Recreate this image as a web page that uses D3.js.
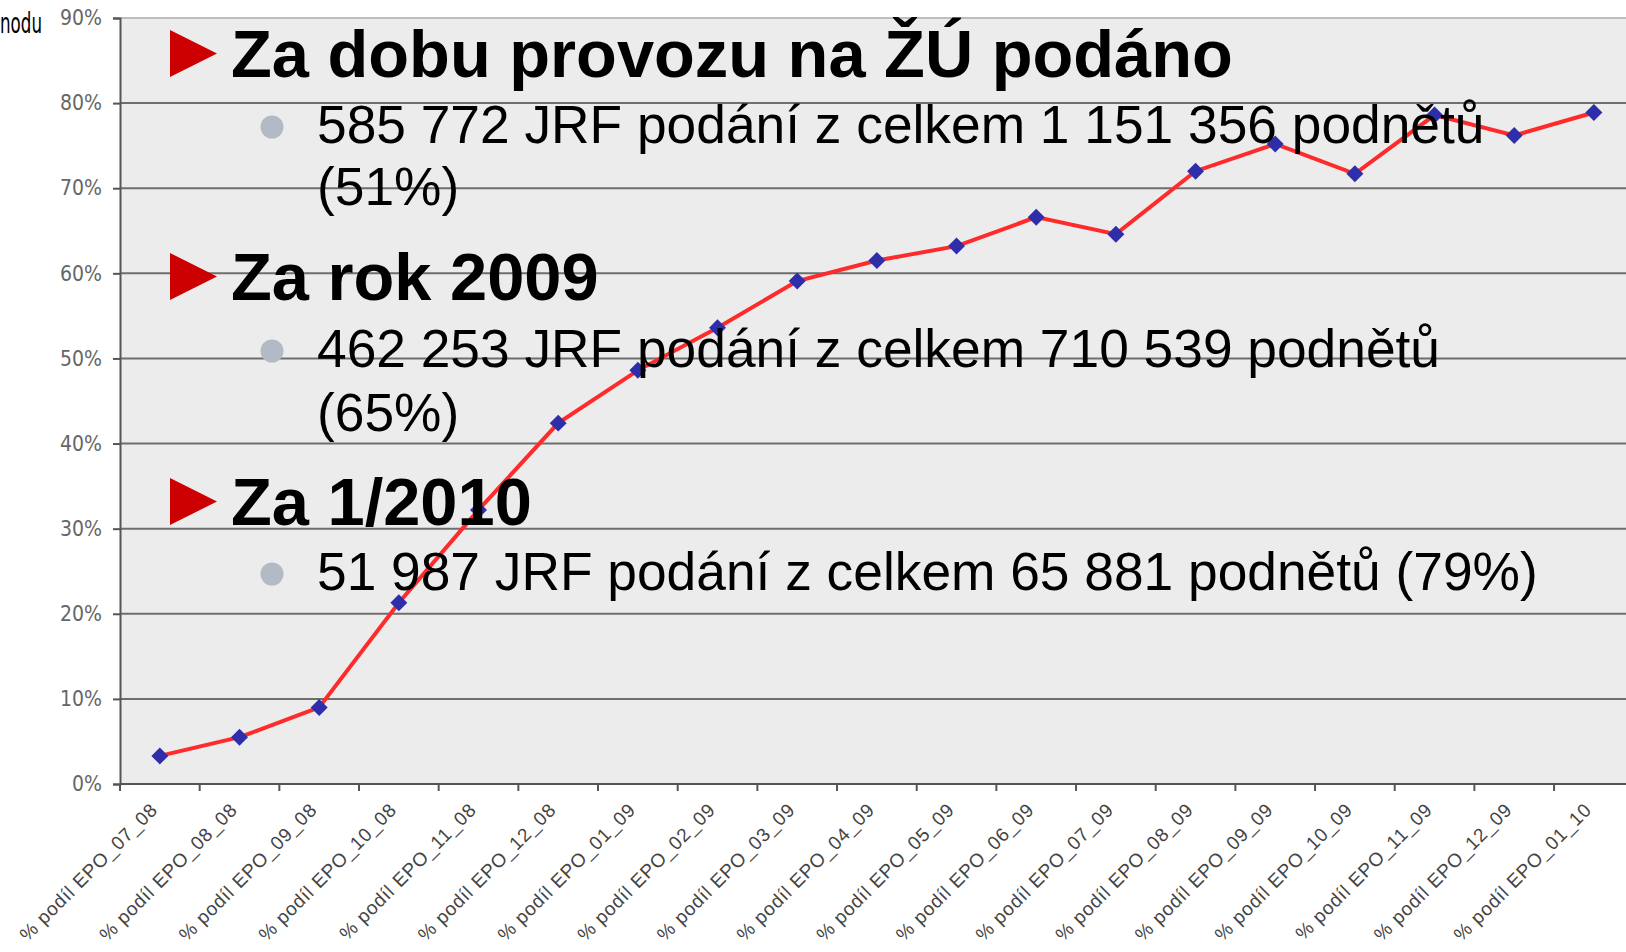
<!DOCTYPE html>
<html>
<head>
<meta charset="utf-8">
<script src="https://cdn.jsdelivr.net/npm/d3@7"></script>
<style>
  body { margin: 0; background: #fff; }
  svg { display: block; }
  .narrow { font-family: "DejaVu Sans Condensed", "Liberation Sans Narrow", sans-serif; }
  .arial { font-family: "Liberation Sans", Arial, sans-serif; }
</style>
</head>
<body>
<div id="chart"></div>
<script>
const categories = ["07_08", "08_08", "09_08", "10_08", "11_08", "12_08", "01_09", "02_09", "03_09",
    "04_09", "05_09", "06_09", "07_09", "08_09", "09_09", "10_09", "11_09", "12_09", "01_10"];
const shares = [0.033, 0.055, 0.090, 0.213, 0.322, 0.424, 0.486, 0.536, 0.591,
    0.615, 0.632, 0.666, 0.646, 0.720, 0.752, 0.717, 0.786, 0.762, 0.789];
const yTicks = [0, 0.1, 0.2, 0.3, 0.4, 0.5, 0.6, 0.7, 0.8, 0.9];

// overlaid slide text
const headings = ["Za dobu provozu na ŽÚ podáno", "Za rok 2009", "Za 1/2010"];
const bodies = [
    ["585 772 JRF podání z celkem 1 151 356 podnětů", "(51%)"],
    ["462 253 JRF podání z celkem 710 539 podnětů", "(65%)"],
    ["51 987 JRF podání z celkem 65 881 podnětů (79%)"]
];

const W = 1626, H = 952;
const plotLeft = 120, plotTop = 18, plotBottom = 784;
const band = 79.67;

const svg = d3.select("#chart").append("svg")
    .attr("width", W)
    .attr("height", H);

const x = d3.scaleBand()
    .domain(categories)
    .range([plotLeft, plotLeft + band * categories.length]);

const y = d3.scaleLinear()
    .domain([0, 0.9])
    .range([plotBottom, plotTop]);

// plot background
svg.append("rect")
    .attr("x", plotLeft).attr("y", plotTop)
    .attr("width", W - plotLeft).attr("height", plotBottom - plotTop)
    .attr("fill", "#ececec");

// gridlines
svg.append("g").selectAll("line")
    .data(yTicks.filter(d => d > 0))
    .join("line")
    .attr("x1", plotLeft).attr("x2", W)
    .attr("y1", d => y(d)).attr("y2", d => y(d))
    .attr("stroke", d => d >= 0.9 ? "#bdbdbd" : "#6e6e6e")
    .attr("stroke-width", 2);

// y axis
const yAxis = svg.append("g")
    .attr("transform", `translate(${plotLeft},0)`)
    .call(d3.axisLeft(y).tickValues(yTicks).tickFormat(d3.format(".0%")).tickSize(7).tickPadding(11));
yAxis.select(".domain").attr("stroke", "#555").attr("stroke-width", 2);
yAxis.selectAll(".tick line").attr("stroke", "#555").attr("stroke-width", 2);
yAxis.selectAll(".tick text")
    .attr("class", "narrow")
    .attr("font-size", 21)
    .attr("fill", "#666");

// x axis (ticks at band edges)
svg.append("line")
    .attr("x1", plotLeft).attr("x2", W)
    .attr("y1", plotBottom).attr("y2", plotBottom)
    .attr("stroke", "#555").attr("stroke-width", 2);
svg.append("g").selectAll("line")
    .data(categories)
    .join("line")
    .attr("x1", d => x(d)).attr("x2", d => x(d))
    .attr("y1", plotBottom).attr("y2", plotBottom + 7)
    .attr("stroke", "#555").attr("stroke-width", 2);

svg.append("g").selectAll("text")
    .data(categories)
    .join("text")
    .attr("class", "arial")
    .attr("transform", d => `translate(${x(d) + x.bandwidth() / 2 - 1},${plotBottom + 27}) rotate(-45)`)
    .attr("text-anchor", "end")
    .attr("font-size", 19)
    .attr("letter-spacing", 0.8)
    .attr("fill", "#444")
    .text(d => `% podíl EPO_${d}`);

// series line
const line = d3.line()
    .x((d, i) => x(categories[i]) + x.bandwidth() / 2)
    .y(d => y(d));

svg.append("path")
    .datum(shares)
    .attr("d", line)
    .attr("fill", "none")
    .attr("stroke", "#ff2b2b")
    .attr("stroke-width", 4);

svg.append("g").selectAll("path")
    .data(shares)
    .join("path")
    .attr("d", d3.symbol(d3.symbolSquare, 144))
    .attr("transform", (d, i) => `translate(${x(categories[i]) + x.bandwidth() / 2},${y(d)}) rotate(45)`)
    .attr("fill", "#2e2eaa");

// cut-off axis title at the top-left
svg.append("text")
    .attr("class", "narrow")
    .attr("x", 0).attr("y", 33)
    .attr("font-size", 28)
    .attr("textLength", 42)
    .attr("lengthAdjust", "spacingAndGlyphs")
    .attr("fill", "#000")
    .text("nodu");

// slide text overlay
const headBase = [77, 300, 525];
const bodyBase = [[143, 205], [367, 431], [590]];

headings.forEach((h, i) => {
    const b = headBase[i];
    svg.append("path")
        .attr("d", `M170,${b - 47} L217,${b - 23.5} L170,${b} Z`)
        .attr("fill", "#cc0000");
    svg.append("text")
        .attr("class", "arial")
        .attr("x", 231).attr("y", b)
        .attr("font-size", 66.8)
        .attr("font-weight", "bold")
        .attr("fill", "#000")
        .text(h);
    bodies[i].forEach((t, j) => {
        if (j === 0) {
            svg.append("circle")
                .attr("cx", 272).attr("cy", bodyBase[i][0] - 16)
                .attr("r", 11.5)
                .attr("fill", "#b1bac5");
        }
        svg.append("text")
            .attr("class", "arial")
            .attr("x", 317).attr("y", bodyBase[i][j])
            .attr("font-size", 53.3)
            .attr("fill", "#000")
            .text(t);
    });
});
</script>
</body>
</html>
